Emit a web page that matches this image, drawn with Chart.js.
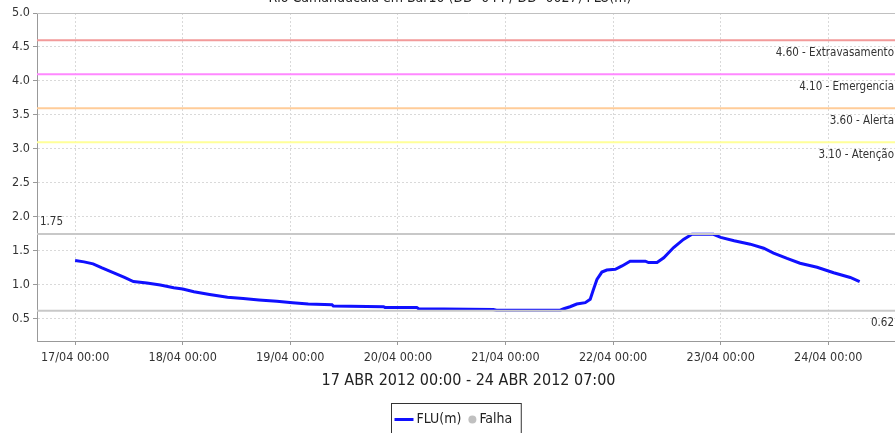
<!DOCTYPE html>
<html>
<head>
<meta charset="utf-8">
<script src="https://cdn.jsdelivr.net/npm/chart.js@4/dist/chart.umd.min.js"></script>
<style>
  html, body { margin: 0; padding: 0; background: #fff; overflow: hidden; }
  #grafico { display: block; }
</style>
</head>
<body>
<canvas id="grafico" width="912" height="433"></canvas>
<script>
// horas contadas a partir de 17/04/2012 00:00
var horas = [0, 2, 4, 6, 8.5, 11, 13, 16, 19, 22, 24, 26.5, 30, 34, 37.5, 41, 45, 48.5, 52, 57.3, 57.6,
    68.8, 69.1, 76.2, 76.6, 93.3, 94, 108.2, 109, 110.4, 111.9, 113.8, 114.9, 115.6, 116.4, 117.5,
    118.6, 120.5, 122, 123.8, 127.2, 127.9, 129.8, 131.3, 133.5, 135.7, 137.6, 142.4, 144, 147,
    150.6, 153.6, 155.8, 158.8, 161.7, 165.5, 169.2, 172.9, 175];
var nivel = [1.36, 1.34, 1.31, 1.25, 1.18, 1.11, 1.05, 1.03, 1.00, 0.96, 0.94, 0.90, 0.86, 0.82, 0.80, 0.78, 0.76, 0.74, 0.72, 0.71, 0.69,
    0.68, 0.67, 0.67, 0.65, 0.64, 0.63, 0.63, 0.65, 0.68, 0.72, 0.74, 0.79, 0.93, 1.08, 1.19,
    1.22, 1.23, 1.28, 1.35, 1.35, 1.33, 1.33, 1.40, 1.55, 1.67, 1.745, 1.745, 1.70, 1.65,
    1.60, 1.54, 1.47, 1.39, 1.32, 1.26, 1.18, 1.11, 1.05];

var cotas = [4.60, 4.10, 3.60, 3.10];
var cotasNomes = ['Extravasamento', 'Emergencia', 'Alerta', 'Atenção'];
var cotasCores = ['#f29a9a', '#ff88ff', '#ffcc99', '#ffff99'];

var nivelMax = 1.75;
var nivelMin = 0.62;

var rotulosX = ['17/04 00:00', '18/04 00:00', '19/04 00:00', '20/04 00:00',
    '21/04 00:00', '22/04 00:00', '23/04 00:00', '24/04 00:00'];
var ticksY = [0.5, 1.0, 1.5, 2.0, 2.5, 3.0, 3.5, 4.0, 4.5, 5.0];

var titulo = 'Rio Camanducaia em Bar10 (DD -044 / DD -0027) FLU(m)';
var tituloX = '17 ABR 2012 00:00 - 24 ABR 2012 07:00';

var xMin = -8.5, xMax = 184;
var fonte = "'DejaVu Sans Condensed', 'Liberation Sans Narrow', 'DejaVu Sans', sans-serif";

function linhaH(v) {
    return [{x: xMin, y: v}, {x: xMax, y: v}];
}

var datasets = [];
cotas.forEach(function (c, i) {
    datasets.push({ label: cotasNomes[i], data: linhaH(c), borderColor: cotasCores[i], borderWidth: 2, pointRadius: 0 });
});
datasets.push({ label: 'max', data: linhaH(nivelMax), borderColor: '#c8c8c8', borderWidth: 2, pointRadius: 0 });
datasets.push({ label: 'min', data: linhaH(nivelMin), borderColor: '#c8c8c8', borderWidth: 2, pointRadius: 0 });
datasets.push({
    label: 'FLU(m)',
    data: horas.map(function (h, i) { return {x: h, y: nivel[i]}; }),
    borderColor: '#1010ff', borderWidth: 3, pointRadius: 0, tension: 0, legenda: 'linha'
});
datasets.push({ label: 'Falha', data: [], borderColor: '#c0c0c0', backgroundColor: '#c0c0c0', pointRadius: 4, legenda: 'ponto' });

// textos das cotas, titulo cortado e legenda com caixa
var extras = {
    id: 'extras',
    afterDraw: function (chart) {
        var ctx = chart.ctx;
        var area = chart.chartArea;
        var y = chart.scales.y;
        ctx.save();
        // borda superior do grafico
        ctx.strokeStyle = '#c0c0c0';
        ctx.lineWidth = 1;
        ctx.beginPath();
        ctx.moveTo(area.left, area.top + 0.5);
        ctx.lineTo(area.right, area.top + 0.5);
        ctx.stroke();

        ctx.fillStyle = '#333';
        ctx.font = '11.5px ' + fonte;
        ctx.textBaseline = 'middle';
        ctx.textAlign = 'right';
        cotas.forEach(function (c, i) {
            ctx.fillText(c.toFixed(2) + ' - ' + cotasNomes[i], area.right - 6, y.getPixelForValue(c) + 13);
        });
        ctx.fillText(nivelMin.toFixed(2), area.right - 6, y.getPixelForValue(nivelMin) + 12);
        ctx.textAlign = 'left';
        ctx.fillText(nivelMax.toFixed(2), area.left + 3, y.getPixelForValue(nivelMax) - 12);

        // titulo (cortado no topo)
        ctx.font = '14px ' + fonte;
        ctx.textAlign = 'center';
        ctx.textBaseline = 'alphabetic';
        ctx.fillStyle = '#222';
        ctx.fillText(titulo, 450, 2);

        // legenda
        var itens = chart.data.datasets.filter(function (d) { return d.legenda; });
        ctx.font = '14px ' + fonte;
        var larg = 6;
        itens.forEach(function (d) { larg += (d.legenda === 'linha' ? 22 : 12) + ctx.measureText(d.label).width + 6; });
        var lx = Math.round(chart.width / 2 - larg / 2) + 0.5;
        var ly = 403.5;
        ctx.strokeStyle = '#333';
        ctx.lineWidth = 1;
        ctx.strokeRect(lx, ly, larg, 40);
        var cx = lx + 3;
        var cy = ly + 16;
        ctx.textBaseline = 'middle';
        ctx.textAlign = 'left';
        itens.forEach(function (d) {
            if (d.legenda === 'linha') {
                ctx.strokeStyle = d.borderColor;
                ctx.lineWidth = 3;
                ctx.beginPath();
                ctx.moveTo(cx, cy);
                ctx.lineTo(cx + 19, cy);
                ctx.stroke();
                cx += 22;
            } else {
                ctx.fillStyle = d.backgroundColor;
                ctx.beginPath();
                ctx.arc(cx + 5, cy, 4, 0, Math.PI * 2);
                ctx.fill();
                cx += 12;
            }
            ctx.fillStyle = '#222';
            ctx.fillText(d.label, cx, cy);
            cx += ctx.measureText(d.label).width + 6;
        });
        ctx.restore();
    }
};

new Chart(document.getElementById('grafico'), {
    type: 'line',
    data: { datasets: datasets },
    options: {
        responsive: false,
        animation: false,
        devicePixelRatio: 1,
        layout: { padding: { top: 13, right: 12, bottom: 43, left: 0 } },
        plugins: { legend: { display: false }, tooltip: { enabled: false }, title: { display: false } },
        scales: {
            x: {
                type: 'linear',
                min: xMin,
                max: xMax,
                afterBuildTicks: function (s) { s.ticks = rotulosX.map(function (r, i) { return {value: i * 24}; }); },
                afterFit: function (s) { s.height = 49; },
                ticks: {
                    autoSkip: false, maxRotation: 0, padding: 5, color: '#333',
                    font: { family: fonte, size: 12.5 },
                    callback: function (v) { return rotulosX[Math.round(v / 24)]; }
                },
                grid: { color: '#d9d9d9', tickLength: 4, tickColor: '#999' },
                border: { color: '#999', dash: [2, 2] },
                title: { display: true, text: tituloX, color: '#222', font: { family: fonte, size: 16 }, padding: 0 }
            },
            y: {
                min: 0.176,
                max: 5.0,
                afterBuildTicks: function (s) { s.ticks = ticksY.map(function (v) { return {value: v}; }); },
                afterFit: function (s) { s.width = 37; },
                ticks: {
                    padding: 3, color: '#333',
                    font: { family: fonte, size: 12.5 },
                    callback: function (v) { return v.toFixed(1); }
                },
                grid: { color: '#d9d9d9', tickLength: 4, tickColor: '#999' },
                border: { color: '#999', dash: [2, 2] }
            }
        }
    },
    plugins: [extras]
});
</script>
</body>
</html>
